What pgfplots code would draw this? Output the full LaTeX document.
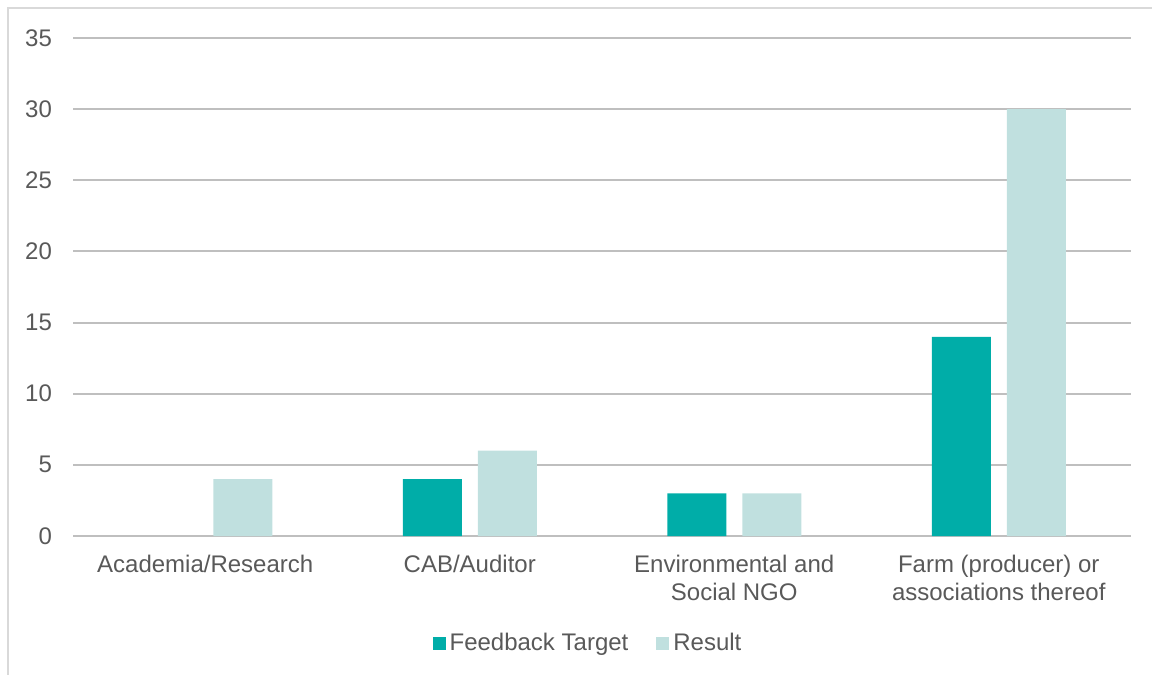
\documentclass[border=0pt]{standalone}
\usepackage{pgfplots}
\pgfplotsset{compat=1.18}
\usepackage{fontspec}
\setmainfont{Liberation Sans}
\definecolor{tealA}{HTML}{00ADA8}
\definecolor{tealB}{HTML}{C0E0DF}
\definecolor{txt}{HTML}{595959}
\definecolor{grid}{HTML}{D9D9D9}
\begin{document}
\begin{tikzpicture}
\useasboundingbox (0,0) rectangle (576pt,337.5pt);
\draw[grid, line width=0.8pt] (4pt,0) -- (4pt,333.5pt) -- (576pt,333.5pt);
\begin{axis}[
  at={(36.5pt,69.5pt)}, anchor=south west,
  scale only axis, width=529pt, height=249pt,
  ybar=8pt, bar width=29.5pt,
  xmin=-0.5, xmax=3.5, ymin=0, ymax=35,
  ytick={0,5,...,35},
  xtick={0,1,2,3},
  xticklabels={Academia/Research, CAB/Auditor, Environmental and\\Social NGO, Farm (producer) or\\associations thereof},
  xticklabel style={align=center, text=txt, font=\fontsize{12pt}{14pt}\selectfont, yshift=-6pt},
  yticklabel style={text=txt, font=\fontsize{12pt}{14pt}\selectfont, xshift=-7pt},
  /pgf/number format/assume math mode=true,
  axis line style={draw=none},
  major tick length=0pt,
  xmajorgrids=false,
  ymajorgrids=true, grid style={grid, line width=1pt},
  legend style={draw=none, at={(0.4877,-0.215)}, anchor=center, font=\fontsize{12pt}{14pt}\selectfont, text=txt, legend columns=2,
    /tikz/every even column/.append style={column sep=12pt}},
  legend cell align=left,
  legend image code/.code={\fill[#1] (0pt,-3.25pt) rectangle (6.5pt,3.25pt);},
]
\addplot[fill=tealA, draw=none] coordinates {(1,4) (2,3) (3,14)};
\addplot[fill=tealB, draw=none] coordinates {(0,4) (1,6) (2,3) (3,30)};
\legend{Feedback Target, Result}
\end{axis}
\end{tikzpicture}
\end{document}
